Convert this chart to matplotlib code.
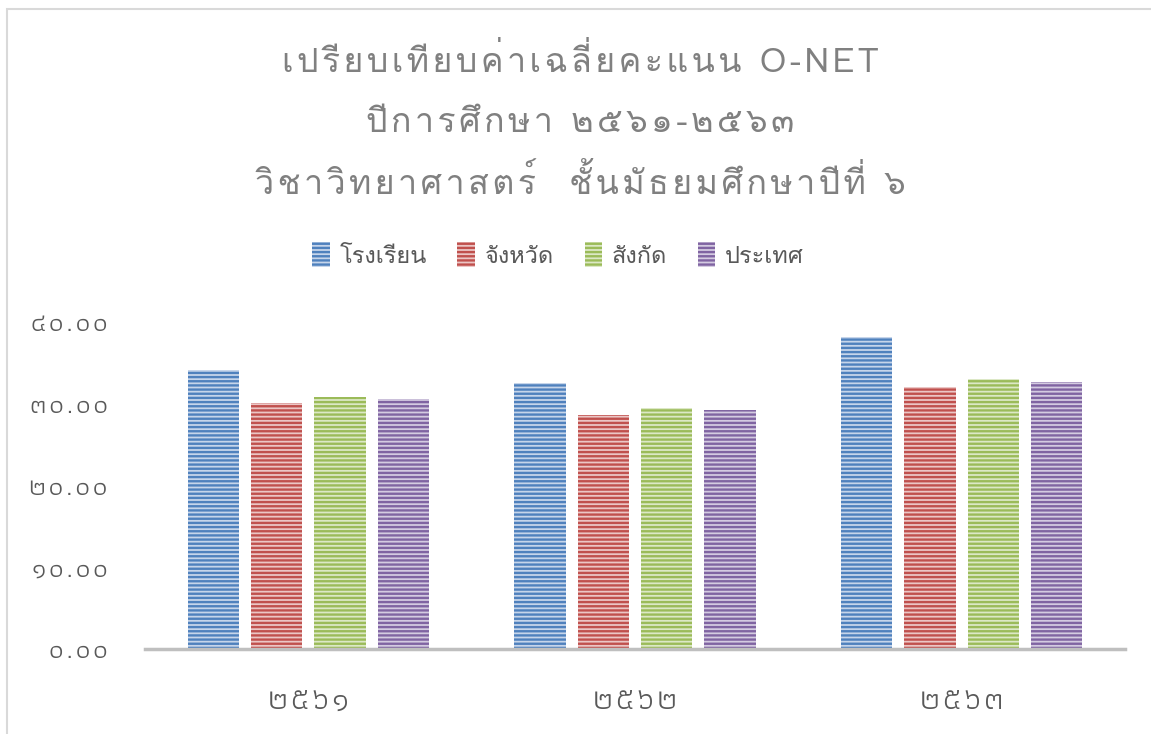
import matplotlib
matplotlib.use("Agg")
import matplotlib.pyplot as plt
from matplotlib import font_manager
from matplotlib.patches import Rectangle
import numpy as np

# ---- data ----
categories = ["๒๕๖๑", "๒๕๖๒", "๒๕๖๓"]
series_names = ["โรงเรียน", "จังหวัด", "สังกัด", "ประเทศ"]
school = [34.13, 32.50, 38.12]
province = [30.13, 28.62, 32.09]
affiliation = [30.79, 29.48, 33.03]
country = [30.55, 29.19, 32.70]
yticks = [0, 10, 20, 30, 40]
title_lines = ["เปรียบเทียบค่าเฉลี่ยคะแนน O-NET",
               "ปีการศึกษา ๒๕๖๑-๒๕๖๓",
               "วิชาวิทยาศาสตร์  ชั้นมัธยมศึกษาปีที่ ๖"]

colors = ["#4F81BD", "#C0504D", "#9BBB59", "#8064A2"]
light = ["#C6D5EA", "#EBC6C5", "#DCE8C6", "#D4CBE1"]

fl = font_manager.fontManager.ttflist
names = {f.name for f in fl}
thai = "Loma" if "Loma" in names else None
fams = ([thai] if thai else []) + ["DejaVu Sans"]
plt.rcParams['font.family'] = fams
plt.rcParams['hatch.linewidth'] = 1.7

# thinner font for the digit-only tick labels (no stacked marks needed)
tick_fam = ["Athiti", "DejaVu Sans"] if "Athiti" in names else fams
ysize, xsize = (19.5, 23) if "Athiti" in names else (18, 19)

MARKS = set([0x0E31] + list(range(0x0E34, 0x0E3B)) + list(range(0x0E47, 0x0E4F)))


def spaced(s, sp="\u2009"):
    out = ""
    for i, ch in enumerate(s):
        if i > 0 and ord(ch) not in MARKS:
            out += sp
        out += ch
    return out


fig = plt.figure(figsize=(11.51, 7.34), dpi=100)
ax = fig.add_axes([0.126, 0.1158, 0.8514, 0.4455])

x = np.arange(len(categories))
step = 0.194
width = 0.1575
data = [school, province, affiliation, country]
for i, (vals, c, lc, name) in enumerate(zip(data, colors, light, series_names)):
    ax.bar(x + (i - 1.5) * step, vals, width, facecolor=lc, edgecolor=c,
           hatch='----', linewidth=0, label=name)

ax.set_xlim(-0.5, 2.5)
ax.set_ylim(0, 40)
thai_digits = str.maketrans("0123456789", "๐๑๒๓๔๕๖๗๘๙")
ax.set_yticks(yticks)
ax.set_yticklabels([spaced(f"{v:.2f}".translate(thai_digits), "\u200a") for v in yticks])
ax.set_xticks(x)
ax.set_xticklabels([spaced(c, "\u200a") for c in categories])
ax.tick_params(axis='y', length=0, pad=27, labelsize=ysize, labelcolor="#595959")
ax.tick_params(axis='x', length=0, pad=28, labelsize=xsize, labelcolor="#595959")
for lab in ax.get_xticklabels() + ax.get_yticklabels():
    lab.set_family(tick_fam)
for s in ["top", "right", "left"]:
    ax.spines[s].set_visible(False)
ax.spines["bottom"].set_color("#BFBFBF")
ax.spines["bottom"].set_linewidth(2.5)

# title
ys = [1 - 62 / 734, 1 - 123 / 734, 1 - 183 / 734]
for t, yy in zip(title_lines, ys):
    fig.text(0.504, yy, spaced(t, "\u200a"), ha="center", va="center", fontsize=24.5, color="#808080")

leg = fig.legend(loc="center", bbox_to_anchor=(558 / 1151, 1 - 255 / 734), ncol=4, frameon=False,
                 fontsize=17, handlelength=0.75, handleheight=1.25, handletextpad=0.4,
                 columnspacing=1.3, labelcolor="#595959")

# chart border
fig.patches.append(Rectangle((7 / 1151, -0.1), 1.2, 1 - 9 / 734 + 0.1, transform=fig.transFigure,
                             fill=False, edgecolor="#D9D9D9", linewidth=1.5))

fig.savefig("out.png", dpi=100)
